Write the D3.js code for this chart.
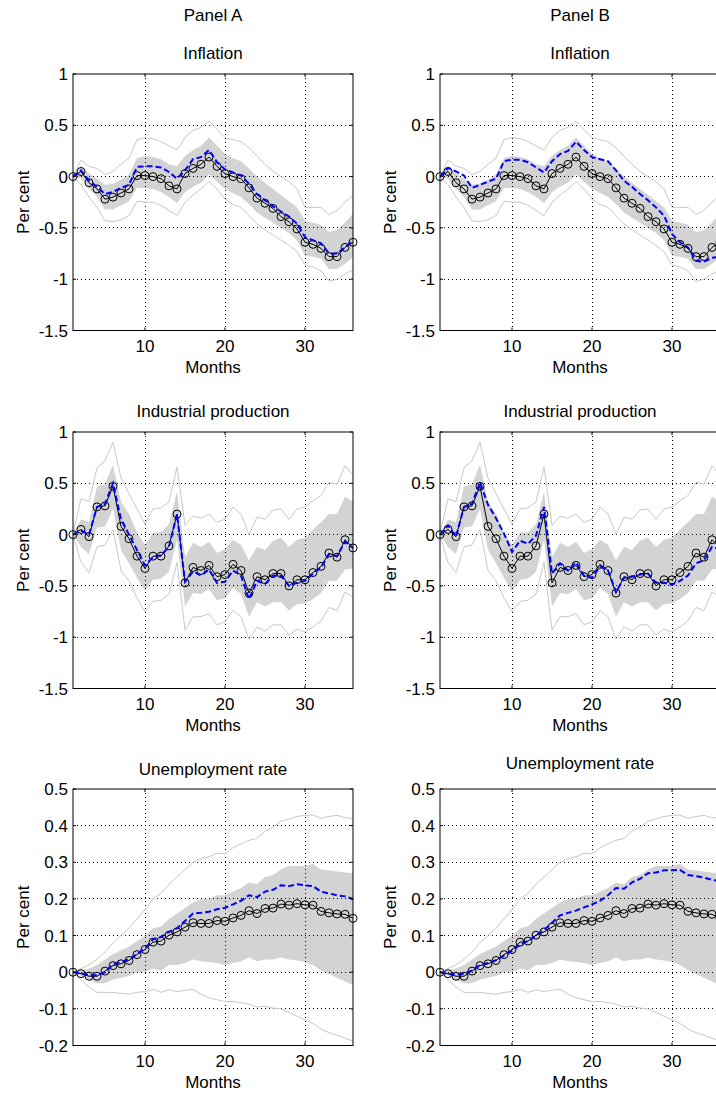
<!DOCTYPE html>
<html><head><meta charset="utf-8">
<script src="https://cdn.jsdelivr.net/npm/d3@7"></script>
<style>
body{margin:0;background:#fff;}
svg{display:block;font-family:"Liberation Sans",Arial,Helvetica,sans-serif;}
</style></head>
<body><svg id="c" width="716" height="1093"></svg>
<script>
const months = d3.range(1, 37);
const xTicks = [10, 20, 30];
const panelTitles = ["Panel A", "Panel B"];
const rowTitles = ["Inflation", "Industrial production", "Unemployment rate"];
const yTicksLarge = [1, 0.5, 0, -0.5, -1, -1.5];
const yTickLabelsLarge = ["1", "0.5", "0", "-0.5", "-1", "-1.5"];
const yTicksU = [0.5, 0.4, 0.3, 0.2, 0.1, 0, -0.1, -0.2];
const yTickLabelsU = ["0.5", "0.4", "0.3", "0.2", "0.1", "0", "-0.1", "-0.2"];

// Inflation
const inflBase = [0,0.05,-0.06,-0.12,-0.22,-0.20,-0.16,-0.12,0.01,0.01,0.0,-0.02,-0.09,-0.12,0.03,0.08,0.12,0.19,0.10,0.03,0.0,-0.02,-0.11,-0.21,-0.26,-0.31,-0.39,-0.44,-0.51,-0.64,-0.66,-0.70,-0.78,-0.78,-0.69,-0.64];
const inflAltA = [0,0.06,-0.04,-0.10,-0.17,-0.15,-0.11,-0.08,0.095,0.10,0.10,0.088,0.045,-0.02,0.06,0.17,0.19,0.26,0.14,0.07,0.04,0.01,-0.07,-0.17,-0.23,-0.29,-0.34,-0.39,-0.46,-0.59,-0.62,-0.65,-0.75,-0.75,-0.69,-0.62];
const inflAltB = [0,0.085,0.05,0.01,-0.11,-0.08,-0.05,-0.02,0.15,0.165,0.165,0.14,0.09,0.04,0.15,0.22,0.25,0.34,0.26,0.19,0.17,0.15,0.06,-0.04,-0.10,-0.17,-0.23,-0.30,-0.38,-0.56,-0.64,-0.69,-0.82,-0.83,-0.79,-0.78];
const inflBandHi = [0,0.10,0.03,-0.02,-0.08,-0.07,-0.03,0.02,0.18,0.20,0.19,0.17,0.12,0.10,0.20,0.26,0.30,0.38,0.30,0.22,0.18,0.15,0.08,0.0,-0.06,-0.12,-0.18,-0.24,-0.30,-0.43,-0.45,-0.47,-0.54,-0.52,-0.45,-0.36];
const inflBandLo = [0,-0.02,-0.12,-0.20,-0.32,-0.32,-0.28,-0.24,-0.11,-0.11,-0.12,-0.15,-0.20,-0.26,-0.15,-0.10,-0.06,0.02,-0.05,-0.12,-0.16,-0.20,-0.27,-0.35,-0.40,-0.45,-0.50,-0.55,-0.62,-0.77,-0.78,-0.80,-0.90,-0.90,-0.85,-0.78];
const inflOuterHi = [0,0.16,0.10,0.08,0.02,0.05,0.12,0.18,0.36,0.38,0.37,0.34,0.30,0.26,0.38,0.45,0.48,0.54,0.46,0.38,0.36,0.34,0.28,0.20,0.12,0.05,0.0,-0.05,-0.12,-0.30,-0.30,-0.30,-0.37,-0.33,-0.25,-0.18];
const inflOuterLo = [0,-0.08,-0.20,-0.30,-0.43,-0.44,-0.42,-0.38,-0.24,-0.25,-0.25,-0.28,-0.33,-0.38,-0.25,-0.18,-0.12,-0.05,-0.12,-0.22,-0.27,-0.30,-0.38,-0.46,-0.52,-0.57,-0.62,-0.67,-0.73,-0.86,-0.88,-0.92,-1.02,-1.00,-0.95,-0.91];

// Industrial production
const ipBase = [0,0.05,-0.02,0.27,0.28,0.47,0.08,-0.04,-0.21,-0.33,-0.21,-0.21,-0.11,0.20,-0.47,-0.32,-0.35,-0.30,-0.41,-0.39,-0.29,-0.35,-0.57,-0.41,-0.44,-0.38,-0.38,-0.50,-0.44,-0.44,-0.37,-0.31,-0.18,-0.22,-0.05,-0.13];
const ipAltA = [0,0.04,0.0,0.27,0.30,0.50,0.15,0.0,-0.15,-0.30,-0.22,-0.20,-0.12,0.20,-0.46,-0.36,-0.40,-0.34,-0.47,-0.46,-0.35,-0.40,-0.63,-0.45,-0.48,-0.40,-0.40,-0.50,-0.47,-0.45,-0.38,-0.32,-0.19,-0.21,-0.07,-0.13];
const ipAltB = [0,0.09,-0.02,0.27,0.30,0.51,0.29,0.16,0.01,-0.17,-0.06,-0.09,-0.01,0.27,-0.38,-0.28,-0.35,-0.27,-0.40,-0.42,-0.31,-0.35,-0.56,-0.42,-0.41,-0.39,-0.38,-0.47,-0.47,-0.49,-0.45,-0.40,-0.28,-0.25,-0.12,-0.14];
const ipBandHi = [0,0.15,0.12,0.47,0.49,0.68,0.32,0.20,0.02,-0.10,0.02,0.02,0.10,0.42,-0.22,-0.08,-0.12,-0.07,-0.18,-0.14,-0.05,-0.10,-0.25,-0.12,-0.15,-0.06,-0.03,-0.12,-0.05,-0.03,0.05,0.12,0.20,0.20,0.37,0.32];
const ipBandLo = [0,-0.12,-0.19,0.07,0.08,0.25,-0.15,-0.28,-0.42,-0.55,-0.44,-0.43,-0.36,-0.05,-0.70,-0.57,-0.58,-0.53,-0.64,-0.62,-0.52,-0.58,-0.80,-0.66,-0.70,-0.66,-0.66,-0.74,-0.68,-0.67,-0.63,-0.57,-0.45,-0.45,-0.34,-0.33];
const ipOuterHi = [0,0.35,0.32,0.65,0.72,0.90,0.55,0.40,0.25,0.10,0.25,0.26,0.32,0.66,0.09,0.18,0.16,0.20,0.12,0.15,0.27,0.20,0.0,0.17,0.15,0.24,0.25,0.15,0.25,0.27,0.33,0.38,0.51,0.49,0.67,0.58];
const ipOuterLo = [0,-0.27,-0.37,-0.12,-0.10,0.05,-0.35,-0.45,-0.62,-0.75,-0.65,-0.64,-0.58,-0.27,-0.93,-0.80,-0.80,-0.77,-0.88,-0.85,-0.74,-0.80,-1.02,-0.90,-0.94,-0.88,-0.88,-0.98,-0.92,-0.95,-0.90,-0.84,-0.71,-0.74,-0.56,-0.61];

// Unemployment rate
const uBase = [0,-0.004,-0.011,-0.011,0.003,0.018,0.023,0.032,0.048,0.062,0.082,0.085,0.101,0.110,0.123,0.135,0.133,0.133,0.141,0.139,0.148,0.155,0.168,0.160,0.174,0.175,0.186,0.183,0.187,0.184,0.183,0.166,0.162,0.159,0.158,0.147];
const uAltA = [0,-0.003,-0.008,-0.008,0.0,0.022,0.028,0.035,0.050,0.065,0.090,0.096,0.110,0.120,0.140,0.160,0.162,0.165,0.172,0.176,0.185,0.195,0.210,0.205,0.220,0.225,0.237,0.235,0.240,0.237,0.235,0.220,0.215,0.210,0.207,0.200];
const uAltB = [0,-0.005,-0.006,-0.004,0.005,0.020,0.025,0.033,0.045,0.058,0.075,0.085,0.100,0.115,0.135,0.155,0.162,0.168,0.177,0.185,0.195,0.210,0.230,0.228,0.245,0.255,0.270,0.272,0.278,0.278,0.279,0.265,0.262,0.258,0.252,0.248];
const uBandHi = [0,0.005,0.010,0.020,0.035,0.050,0.060,0.070,0.085,0.100,0.120,0.125,0.145,0.160,0.175,0.190,0.200,0.200,0.210,0.210,0.220,0.230,0.245,0.240,0.260,0.265,0.280,0.290,0.290,0.290,0.295,0.280,0.278,0.275,0.272,0.270];
const uBandLo = [0,-0.010,-0.022,-0.030,-0.030,-0.020,-0.015,-0.010,0.0,0.0,0.010,0.005,0.020,0.020,0.025,0.035,0.030,0.028,0.025,0.020,0.025,0.030,0.040,0.030,0.035,0.035,0.040,0.035,0.032,0.028,0.020,0.005,-0.005,-0.015,-0.025,-0.035];
const uOuterHi = [0,0.010,0.020,0.035,0.055,0.080,0.100,0.120,0.145,0.170,0.200,0.215,0.240,0.260,0.280,0.300,0.310,0.315,0.325,0.323,0.340,0.350,0.360,0.365,0.385,0.395,0.412,0.418,0.425,0.428,0.429,0.420,0.425,0.428,0.422,0.420];
const uOuterLo = [0,-0.020,-0.040,-0.055,-0.055,-0.055,-0.058,-0.060,-0.055,-0.053,-0.047,-0.055,-0.048,-0.053,-0.049,-0.047,-0.060,-0.070,-0.075,-0.080,-0.080,-0.083,-0.087,-0.095,-0.093,-0.098,-0.100,-0.110,-0.120,-0.130,-0.140,-0.155,-0.165,-0.172,-0.180,-0.188];

const rows = [
  {title: rowTitles[0], dom: [-1.5, 1], ticks: yTicksLarge, labels: yTickLabelsLarge,
   base: inflBase, alt: [inflAltA, inflAltB], bHi: inflBandHi, bLo: inflBandLo, oHi: inflOuterHi, oLo: inflOuterLo},
  {title: rowTitles[1], dom: [-1.5, 1], ticks: yTicksLarge, labels: yTickLabelsLarge,
   base: ipBase, alt: [ipAltA, ipAltB], bHi: ipBandHi, bLo: ipBandLo, oHi: ipOuterHi, oLo: ipOuterLo},
  {title: rowTitles[2], dom: [-0.2, 0.5], ticks: yTicksU, labels: yTickLabelsU,
   base: uBase, alt: [uAltA, uAltB], bHi: uBandHi, bLo: uBandLo, oHi: uOuterHi, oLo: uOuterLo}
];

// layout
const colLeft = [73, 440];
const plotW = 280;
const rowTop = [74, 432, 789];
const plotH = 256.5;
const titleOffset = [[15, 15], [15, 15], [14, 20]];

const svg = d3.select("#c");
const FS = 17;

panelTitles.forEach((t, c) => {
  svg.append("text").attr("x", colLeft[c] + plotW / 2).attr("y", 21)
    .attr("text-anchor", "middle").attr("font-size", FS).text(t);
});

rows.forEach((row, r) => {
  [0, 1].forEach(c => {
    const L = colLeft[c], T = rowTop[r];
    const x = d3.scaleLinear().domain([1, 36]).range([L, L + plotW]);
    const y = d3.scaleLinear().domain(row.dom).range([T + plotH, T]);
    const g = svg.append("g");

    // band
    const area = d3.area().x((d, i) => x(months[i])).y0((d, i) => y(row.bLo[i])).y1((d, i) => y(row.bHi[i]));
    g.append("path").datum(months).attr("d", area).attr("fill", "#d3d3d3").attr("stroke", "none");

    // grid
    xTicks.forEach(v => {
      g.append("line").attr("x1", x(v)).attr("x2", x(v)).attr("y1", T).attr("y2", T + plotH)
        .attr("stroke", "#000").attr("stroke-width", 1).attr("stroke-dasharray", "1,3")
        .attr("shape-rendering", "crispEdges");
    });
    row.ticks.forEach(v => {
      if (v === row.dom[0] || v === row.dom[1]) return;
      g.append("line").attr("x1", L).attr("x2", L + plotW).attr("y1", y(v)).attr("y2", y(v))
        .attr("stroke", "#000").attr("stroke-width", 1).attr("stroke-dasharray", "1,3")
        .attr("shape-rendering", "crispEdges");
    });

    // outer lines
    const line = d3.line().x((d, i) => x(months[i])).y(d => y(d));
    [row.oHi, row.oLo].forEach(s => {
      g.append("path").datum(s).attr("d", line).attr("fill", "none")
        .attr("stroke", "#c8c8c8").attr("stroke-width", 1);
    });

    // base line with circles
    g.append("path").datum(row.base).attr("d", line).attr("fill", "none")
      .attr("stroke", "#000").attr("stroke-width", 1);
    g.selectAll("circle.m").data(row.base).enter().append("circle")
      .attr("cx", (d, i) => x(months[i])).attr("cy", d => y(d)).attr("r", 4)
      .attr("fill", "none").attr("stroke", "#000").attr("stroke-width", 1);

    // alternative dashed blue
    g.append("path").datum(row.alt[c]).attr("d", line).attr("fill", "none")
      .attr("stroke", "#0000ff").attr("stroke-width", 2).attr("stroke-dasharray", "6,3");

    // box
    g.append("rect").attr("x", L).attr("y", T).attr("width", plotW).attr("height", plotH)
      .attr("fill", "none").attr("stroke", "#000").attr("stroke-width", 1);

    // ticks inward
    xTicks.forEach(v => {
      g.append("line").attr("x1", x(v)).attr("x2", x(v)).attr("y1", T + plotH).attr("y2", T + plotH - 3).attr("stroke", "#000");
      g.append("line").attr("x1", x(v)).attr("x2", x(v)).attr("y1", T).attr("y2", T + 3).attr("stroke", "#000");
      g.append("text").attr("x", x(v)).attr("y", T + plotH + 21).attr("text-anchor", "middle")
        .attr("font-size", FS).text(String(v));
    });
    row.ticks.forEach((v, i) => {
      g.append("line").attr("x1", L).attr("x2", L + 3).attr("y1", y(v)).attr("y2", y(v)).attr("stroke", "#000");
      g.append("line").attr("x1", L + plotW).attr("x2", L + plotW - 3).attr("y1", y(v)).attr("y2", y(v)).attr("stroke", "#000");
      g.append("text").attr("x", L - 5).attr("y", y(v) + 6).attr("text-anchor", "end")
        .attr("font-size", FS).text(row.labels[i]);
    });

    // labels
    g.append("text").attr("x", L + plotW / 2).attr("y", T + plotH + 42).attr("text-anchor", "middle")
      .attr("font-size", FS).text("Months");
    g.append("text").attr("transform", `translate(${L - 44},${T + plotH / 2}) rotate(-90)`)
      .attr("text-anchor", "middle").attr("font-size", FS).text("Per cent");
    g.append("text").attr("x", L + plotW / 2).attr("y", T - titleOffset[r][c]).attr("text-anchor", "middle")
      .attr("font-size", FS).text(row.title);
  });
});
</script></body></html>
